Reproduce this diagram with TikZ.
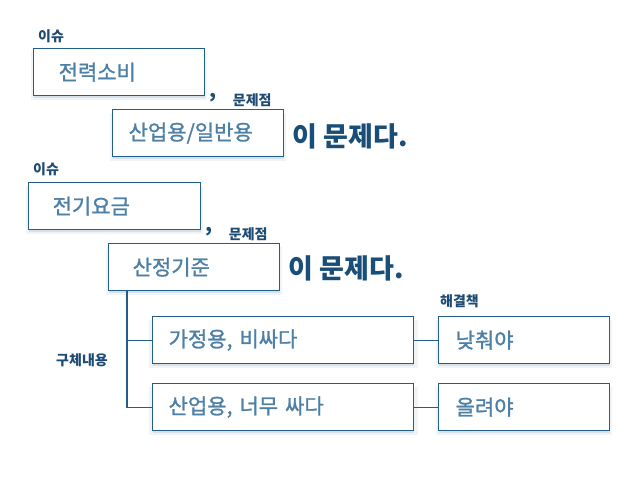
\documentclass[tikz,border=0pt]{standalone}
\usepackage{fontspec}
\setmainfont{Noto Sans CJK KR}
\newfontfamily\boxfont[FakeBold=1.2]{Noto Sans CJK KR}
\usetikzlibrary{positioning,calc,shadows}

\definecolor{boxline}{RGB}{33,94,140}
\definecolor{boxtext}{RGB}{78,128,166}
\definecolor{headtext}{RGB}{25,78,120}
\definecolor{tagtext}{RGB}{30,75,115}

\tikzset{
  box/.style 2 args={draw=boxline, line width=1.3pt, fill=white, anchor=north west,
    minimum height=47pt, inner xsep=#1, text width=#2, align=left, text=boxtext,
    font=\boxfont\fontsize{21}{21}\selectfont,
    drop shadow={fill=boxline!35, opacity=.18, shadow xshift=0pt, shadow yshift=-4pt, shadow scale=1.03},
    drop shadow={fill=boxline!45, opacity=.3, shadow xshift=0.5pt, shadow yshift=-2.5pt}},
  tag/.style={text=tagtext, font=\bfseries\fontsize{14}{14}\selectfont, inner sep=0pt},
  verdict/.style={text=headtext, font=\bfseries\fontsize{27}{27}\selectfont, anchor=west, inner sep=0pt},
  comma/.style={text=headtext, font=\bfseries\fontsize{20}{20}\selectfont, inner sep=0pt},
  link/.style={draw=boxline, line width=1.3pt}
}

\begin{document}
\begin{tikzpicture}[x=1pt,y=-1pt]
  \useasboundingbox[fill=white] (0,0) rectangle (638,479);

  % first issue
  \node[box={25pt}{121pt}] (power) at (33,48) {전력소비};
  \node[box={16pt}{139pt}] (usage) at (112,109) {산업용/일반용};
  \node[tag, anchor=south west] (issueA) at ($(power.north west)+(5,-5)$) {이슈};
  \node[comma] (commaA) at ($(power.south east)+(8,1)$) {,};
  \node[tag] (problemA) at ($(power.south east)+(47,4)$) {문제점};
  \node[verdict] (verdictA) at ($(usage.east)+(8,3)$) {이 문제다.};

  % second issue
  \node[box={24pt}{124pt}] (bill) at (28,182) {전기요금};
  \node[box={24pt}{123pt}] (cost) at (108,243) {산정기준};
  \node[tag, anchor=south west] (issueB) at ($(bill.north west)+(5,-6)$) {이슈};
  \node[comma] (commaB) at ($(bill.south east)+(8,1)$) {,};
  \node[tag] (problemB) at ($(bill.south east)+(47,4)$) {문제점};
  \node[verdict] (verdictB) at ($(cost.east)+(8,1)$) {이 문제다.};

  % details and fixes
  \node[box={16pt}{229pt}] (costly) at (152,316) {가정용, 비싸다};
  \node[box={16pt}{229pt}] (cheap) at (152,383) {산업용, 너무 싸다};
  \node[box={17pt}{137pt}] (lower) at (438,316) {낮춰야};
  \node[box={17pt}{137pt}] (raise) at (438,383) {올려야};
  \node[tag, anchor=south west] (fix) at ($(lower.north west)+(2,-8)$) {해결책};
  \node[tag] (detail) at (82,360) {구체내용};

  \coordinate (trunk) at ($(cost.south west)+(19,0)$);
  \draw[link] (trunk) |- (cheap.west);
  \draw[link] (trunk |- costly.west) -- (costly.west);
  \draw[link] (costly.east) -- (lower.west);
  \draw[link] (cheap.east) -- (raise.west);
\end{tikzpicture}
\end{document}
